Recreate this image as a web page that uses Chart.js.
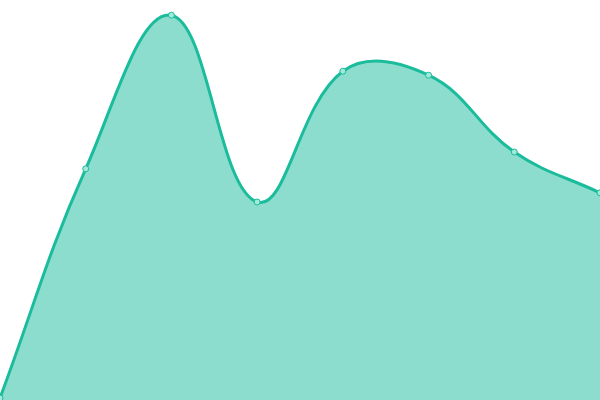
<!DOCTYPE html>
<html>
<head>
<meta charset="utf-8">
<script src="https://cdn.jsdelivr.net/npm/chart.js@4"></script>
<style>
  html, body { margin: 0; padding: 0; background: #fff; }
  #wrap { width: 600px; height: 400px; }
</style>
</head>
<body>
<div id="wrap"><canvas id="chart"></canvas></div>
<script>
const labels = ['1', '2', '3', '4', '5', '6', '7', '8'];
const values = [0.5, 57.8, 96.2, 49.5, 82.2, 81.2, 62, 51.8];

const chartData = {
  labels: labels,
  datasets: [
    {
      data: values,
      fill: true,
      backgroundColor: 'rgba(26, 188, 156, 0.5)',
      borderColor: '#1abc9c',
      borderWidth: 3,
      tension: 0.4,
      pointRadius: 3,
      pointBorderWidth: 1,
      pointBackgroundColor: '#a3e8d9',
      pointBorderColor: '#1abc9c',
    },
  ],
};

const chartConfig = {
  type: 'line',
  data: chartData,
  options: {
    responsive: true,
    maintainAspectRatio: false,
    animation: false,
    layout: { padding: 0, autoPadding: false },
    scales: {
      x: { display: false, offset: false },
      y: { display: false, min: 0, max: 100 },
    },
    plugins: {
      legend: { display: false },
      tooltip: { enabled: false },
    },
  },
};

const chart = new Chart(document.getElementById('chart'), chartConfig);
</script>
</body>
</html>
